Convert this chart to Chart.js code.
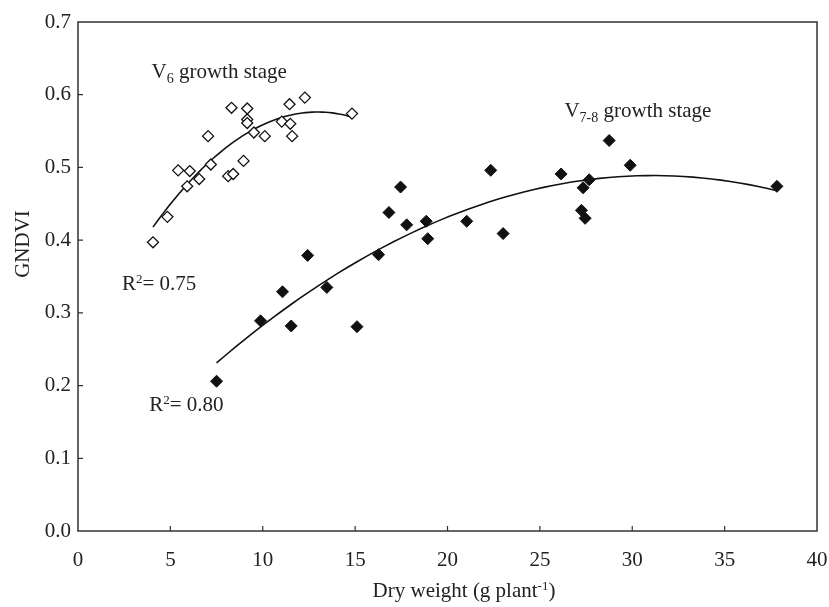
<!DOCTYPE html>
<html>
<head>
<meta charset="utf-8">
<script src="https://cdn.jsdelivr.net/npm/chart.js@4.4.0/dist/chart.umd.min.js"></script>
<style>
html,body{margin:0;padding:0;background:#fff;}
#wrap{width:829px;height:607px;position:relative;}
</style>
</head>
<body>
<div id="wrap"><canvas id="c" width="829" height="607"></canvas></div>
<script>
// ---- data ----
const v6DryWeight = [4.06,4.84,5.42,6.05,5.91,6.56,7.04,7.19,8.13,8.40,8.31,8.96,9.16,9.16,9.16,9.52,10.11,11.03,11.45,11.49,11.59,12.28,14.83];
const v6Gndvi     = [0.397,0.432,0.496,0.495,0.474,0.484,0.543,0.504,0.488,0.491,0.582,0.509,0.581,0.566,0.561,0.548,0.543,0.563,0.587,0.560,0.543,0.596,0.574];
const v78DryWeight = [7.50,9.88,11.07,11.54,12.43,13.47,15.10,16.27,18.93,16.83,17.46,17.79,18.85,21.04,22.34,23.01,26.15,27.25,27.45,27.34,27.67,28.75,29.89,37.83];
const v78Gndvi     = [0.206,0.289,0.329,0.282,0.379,0.335,0.281,0.380,0.402,0.438,0.473,0.421,0.426,0.426,0.496,0.409,0.491,0.441,0.430,0.472,0.483,0.537,0.503,0.474];
const xTicks = [0,5,10,15,20,25,30,35,40];
const yTicks = [0.0,0.1,0.2,0.3,0.4,0.5,0.6,0.7];
const v6Label = ["V","6"," growth stage"];
const v78Label = ["V","7-8"," growth stage"];
const r2Labels = ["0.75","0.80"];

// quadratic least-squares fit of the data (the trend lines)
function quadFit(xs, ys){
  let n=xs.length,S=[0,0,0,0,0],T=[0,0,0];
  for(let i=0;i<n;i++){let x=xs[i],y=ys[i];let p=1;for(let k=0;k<5;k++){S[k]+=p;if(k<3)T[k]+=p*y;p*=x;}}
  const A=[[S[0],S[1],S[2],T[0]],[S[1],S[2],S[3],T[1]],[S[2],S[3],S[4],T[2]]];
  for(let i=0;i<3;i++){for(let j=i+1;j<3;j++){const f=A[j][i]/A[i][i];for(let k=i;k<4;k++)A[j][k]-=f*A[i][k];}}
  const c=[0,0,0];
  for(let i=2;i>=0;i--){let s=A[i][3];for(let k=i+1;k<3;k++)s-=A[i][k]*c[k];c[i]=s/A[i][i];}
  return c;
}
function trend(xs, ys){
  const c=quadFit(xs,ys), lo=Math.min(...xs), hi=Math.max(...xs), out=[];
  for(let i=0;i<=60;i++){const x=lo+(hi-lo)*i/60;out.push({x:x,y:c[0]+c[1]*x+c[2]*x*x});}
  return out;
}
const pts=(xs,ys)=>xs.map((x,i)=>({x:x,y:ys[i]}));

const FONT='"Liberation Serif","DejaVu Serif",serif';
const INK='#222';

const decor={
  id:'decor',
  afterDraw(chart){
    const {ctx,chartArea:a,scales:{x,y}}=chart;
    ctx.save();
    ctx.strokeStyle='#333';ctx.lineWidth=1.5;
    ctx.strokeRect(a.left,a.top,a.right-a.left,a.bottom-a.top);
    ctx.lineWidth=1.2;
    ctx.beginPath();
    yTicks.forEach(v=>{if(v>0&&v<0.7){const py=y.getPixelForValue(v);ctx.moveTo(a.left,py);ctx.lineTo(a.left+5,py);}});
    xTicks.forEach(v=>{if(v>0&&v<40){const px=x.getPixelForValue(v);ctx.moveTo(px,a.bottom);ctx.lineTo(px,a.bottom-5);}});
    ctx.stroke();
    ctx.fillStyle=INK;ctx.textBaseline='alphabetic';ctx.textAlign='left';
    function rich(parts,px,py){ // parts: [text,size,dy]
      let cx=px;
      parts.forEach(p=>{ctx.font=p[1]+'px '+FONT;ctx.fillText(p[0],cx,py+p[2]);cx+=ctx.measureText(p[0]).width;});
      return cx-px;
    }
    // stage labels
    rich([[v6Label[0],21,0],[v6Label[1],14,5],[v6Label[2],21,0]], x.getPixelForValue(3.98), y.getPixelForValue(0.623));
    rich([[v78Label[0],21,0],[v78Label[1],14,5],[v78Label[2],21,0]], x.getPixelForValue(26.33), y.getPixelForValue(0.569));
    // R2 labels
    rich([["R",21,0],["2",13,-7],["= "+r2Labels[0],21,0]], x.getPixelForValue(2.38), y.getPixelForValue(0.331));
    rich([["R",21,0],["2",13,-7],["= "+r2Labels[1],21,0]], x.getPixelForValue(3.85), y.getPixelForValue(0.165));
    // x title
    const xt=[["Dry weight (g plant",21,0],["-1",13,-7],[")",21,0]];
    let w=0; xt.forEach(p=>{ctx.font=p[1]+'px '+FONT;w+=ctx.measureText(p[0]).width;});
    rich(xt, 464-w/2, 597);
    // y title
    ctx.translate(23,244);ctx.rotate(-Math.PI/2);
    ctx.font='21px '+FONT;ctx.textAlign='center';ctx.textBaseline='middle';
    ctx.fillText('GNDVI',0,0);
    ctx.restore();
  }
};

new Chart(document.getElementById('c'),{
  type:'scatter',
  data:{datasets:[
    {label:'V6',data:pts(v6DryWeight,v6Gndvi),pointStyle:'rectRot',pointRadius:5.5,pointBorderWidth:1.3,borderColor:'#111',backgroundColor:'#fff',order:1},
    {label:'V7-8',data:pts(v78DryWeight,v78Gndvi),pointStyle:'rectRot',pointRadius:6,pointBorderWidth:1,borderColor:'#111',backgroundColor:'#111',order:1},
    {label:'V6 fit',type:'line',data:trend(v6DryWeight,v6Gndvi),showLine:true,pointRadius:0,borderColor:'#111',borderWidth:1.6,fill:false,order:2},
    {label:'V7-8 fit',type:'line',data:trend(v78DryWeight,v78Gndvi),showLine:true,pointRadius:0,borderColor:'#111',borderWidth:1.6,fill:false,order:2}
  ]},
  options:{
    responsive:false,animation:false,
    layout:{padding:{top:22,right:12,left:0,bottom:0}},
    plugins:{legend:{display:false},tooltip:{enabled:false}},
    scales:{
      x:{type:'linear',min:0,max:40,
        afterBuildTicks:s=>{s.ticks=xTicks.map(v=>({value:v}));},
        afterFit:s=>{s.height=76;s.paddingLeft=0;s.paddingRight=0;},
        grid:{display:false,drawTicks:false},border:{display:false},
        ticks:{padding:17,color:INK,font:{family:FONT,size:21},callback:v=>String(v)}},
      y:{type:'linear',min:0,max:0.7,
        afterBuildTicks:s=>{s.ticks=yTicks.map(v=>({value:v}));},
        afterFit:s=>{s.width=78;s.paddingTop=0;s.paddingBottom=0;},
        grid:{display:false,drawTicks:false},border:{display:false},
        ticks:{padding:7,color:INK,font:{family:FONT,size:21},callback:v=>Number(v).toFixed(1)}}
    }
  },
  plugins:[decor]
});
</script>
</body>
</html>
